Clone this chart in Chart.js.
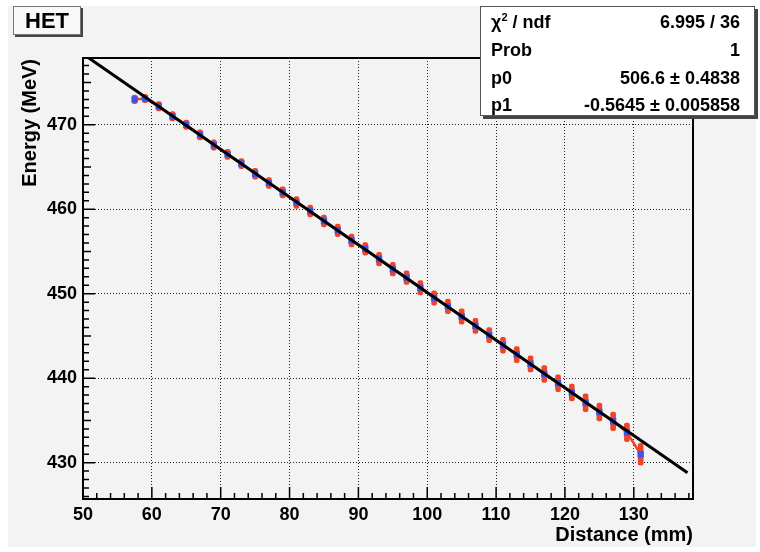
<!DOCTYPE html>
<html lang="en">
  <head>
    <meta charset="UTF-8" />
    <title>HET energy vs distance</title>
    <script src="https://cdn.jsdelivr.net/npm/chart.js"></script>
    <style>
      body { margin: 0; background: #fff; font-family: "Liberation Sans", Arial, sans-serif; }
      #wrap { position: relative; width: 760px; height: 552px; }
      #wrap canvas { position: absolute; left: 0; top: 0; }
      .het {
        position: absolute; left: 13px; top: 6px; width: 66px; height: 27px;
        background: #f8f8f8; border: 1px solid #777; box-shadow: 2px 2px 0 #444;
        font-weight: bold; font-size: 22px; line-height: 28px; text-align: center;
      }
      .stats {
        position: absolute; left: 480px; top: 6px; width: 273px; height: 108px;
        background: #fff; border: 1px solid #555; box-shadow: 3px 3px 0 #444;
        font-weight: bold; font-size: 18px;
      }
      .stats .row {
        position: absolute; left: 10px; right: 14px; height: 22px; line-height: 22px;
        display: flex; justify-content: space-between;
      }
      .stats sup { font-size: 11px; vertical-align: 7px; line-height: 0; }
    </style>
  </head>
  <body>
    <div id="wrap">
      <canvas id="hetChart" width="760" height="552"></canvas>
      <div class="het">HET</div>
      <div class="stats">
        <div class="row" style="top: 4px"><span>&chi;<sup>2</sup> / ndf</span><span>6.995 / 36</span></div>
        <div class="row" style="top: 32px"><span>Prob</span><span>1</span></div>
        <div class="row" style="top: 60px"><span>p0</span><span>506.6 &plusmn; 0.4838</span></div>
        <div class="row" style="top: 87px"><span>p1</span><span>-0.5645 &plusmn; 0.005858</span></div>
      </div>
    </div>

    <script>
      // measured points (mm, MeV)
      const distance = [
        57.5, 59, 61, 63, 65, 67, 69, 71, 73, 75, 77, 79, 81, 83, 85, 87, 89, 91, 93,
        95, 97, 99, 101, 103, 105, 107, 109, 111, 113, 115, 117, 119, 121, 123, 125, 127, 129, 131,
      ];
      const energy = [
        473.0, 473.1, 472.2, 471.0, 470.0, 468.8, 467.6, 466.5, 465.4, 464.2, 463.1, 462.0, 460.8,
        459.8, 458.6, 457.5, 456.3, 455.3, 454.1, 452.9, 451.9, 450.7, 449.5, 448.5, 447.3, 446.2,
        445.1, 443.9, 442.8, 441.7, 440.5, 439.4, 438.3, 437.1, 436.0, 434.9, 433.6, 431.0,
      ];
      const energyErr = [
        0.5, 0.5, 0.55, 0.55, 0.55, 0.6, 0.6, 0.6, 0.6, 0.65, 0.65, 0.65, 0.7, 0.7, 0.7, 0.75,
        0.75, 0.75, 0.8, 0.8, 0.8, 0.85, 0.85, 0.85, 0.9, 0.9, 0.9, 0.95, 0.95, 0.95, 1.0, 1.0,
        1.0, 1.05, 1.05, 1.1, 1.1, 1.3,
      ];

      // fit result p0 + p1*x
      const p0 = 506.6;
      const p1 = -0.5645;
      const fitRange = [50, 137.8];

      const xTicks = [50, 60, 70, 80, 90, 100, 110, 120, 130];
      const yTicks = [430, 440, 450, 460, 470];
      const xRange = [50, 138.6];
      const yRange = [425.7, 477.9];

      const RED = "#ee4427";
      const BLUE = "#3a55f2";
      const FONT = "Liberation Sans";

      // panel background, frame, inner ticks and axis titles (ROOT style)
      const rootFrame = {
        id: "rootFrame",
        beforeDraw(chart) {
          const ctx = chart.ctx;
          ctx.save();
          ctx.fillStyle = "#fff";
          ctx.fillRect(0, 0, chart.width, chart.height);
          ctx.fillStyle = "#f3f3f3";
          ctx.fillRect(8, 6, 748, 541);
          ctx.restore();
        },
        afterDatasetsDraw(chart) {
          const { ctx, chartArea: a, scales } = chart;
          ctx.save();
          ctx.strokeStyle = "#000";
          ctx.lineWidth = 1.5;
          ctx.beginPath();
          for (let v = 50; v <= xRange[1]; v += 2) {
            const px = scales.x.getPixelForValue(v);
            const len = v % 10 === 0 ? 12 : 6;
            ctx.moveTo(px, a.bottom);
            ctx.lineTo(px, a.bottom - len);
          }
          for (let v = 426; v <= yRange[1]; v += 1) {
            const py = scales.y.getPixelForValue(v);
            const len = v % 10 === 0 ? 12 : v % 5 === 0 ? 8 : 6;
            ctx.moveTo(a.left, py);
            ctx.lineTo(a.left + len, py);
          }
          ctx.stroke();

          ctx.lineWidth = 2;
          ctx.strokeRect(a.left, a.top, a.right - a.left, a.bottom - a.top);

          ctx.fillStyle = "#000";
          ctx.font = `bold 20px "${FONT}"`;
          ctx.textAlign = "right";
          ctx.textBaseline = "middle";
          ctx.fillText("Distance (mm)", a.right, 535);
          ctx.translate(30, a.top + 1);
          ctx.rotate(-Math.PI / 2);
          ctx.fillText("Energy (MeV)", 0, 0);
          ctx.restore();
        },
      };

      new Chart(document.getElementById("hetChart"), {
        type: "line",
        data: {
          datasets: [
            {
              label: "fit",
              data: fitRange.map((x) => ({ x, y: p0 + p1 * x })),
              borderColor: "#000",
              borderWidth: 3,
              pointRadius: 0,
              order: 0,
            },
            {
              label: "points",
              data: distance.map((x, i) => ({ x, y: energy[i] })),
              showLine: false,
              pointStyle: "rect",
              pointRadius: 4.5,
              backgroundColor: BLUE,
              borderWidth: 0,
              order: 1,
            },
            {
              type: "bar",
              label: "errors",
              data: distance.map((x, i) => ({
                x,
                y: [energy[i] - energyErr[i], energy[i] + energyErr[i]],
              })),
              backgroundColor: RED,
              borderWidth: 0,
              borderRadius: 2,
              borderSkipped: false,
              barThickness: 5,
              grouped: false,
              order: 2,
            },
            {
              label: "graph",
              data: distance.map((x, i) => ({ x, y: energy[i] })),
              borderColor: RED,
              borderWidth: 2.5,
              pointRadius: 0,
              order: 3,
            },
          ],
        },
        options: {
          responsive: false,
          animation: false,
          devicePixelRatio: 1,
          layout: { padding: { left: 0, top: 58, right: 67, bottom: 0 } },
          plugins: { legend: { display: false }, tooltip: { enabled: false } },
          scales: {
            x: {
              type: "linear",
              min: xRange[0],
              max: xRange[1],
              offset: false,
              afterBuildTicks: (axis) => {
                axis.ticks = xTicks.map((value) => ({ value }));
              },
              afterFit: (axis) => {
                axis.height = 53;
              },
              grid: { color: "#222", lineWidth: 1, drawTicks: false, offset: false },
              border: { display: false, dash: [1, 2] },
              ticks: {
                color: "#000",
                padding: 5,
                maxRotation: 0,
                font: { family: FONT, weight: "bold", size: 18 },
              },
            },
            y: {
              min: yRange[0],
              max: yRange[1],
              afterBuildTicks: (axis) => {
                axis.ticks = yTicks.map((value) => ({ value }));
              },
              afterFit: (axis) => {
                axis.width = 83;
              },
              grid: { color: "#222", lineWidth: 1, drawTicks: false },
              border: { display: false, dash: [1, 2] },
              ticks: {
                color: "#000",
                padding: 6,
                font: { family: FONT, weight: "bold", size: 18 },
              },
            },
          },
        },
        plugins: [rootFrame],
      });
    </script>
  </body>
</html>
